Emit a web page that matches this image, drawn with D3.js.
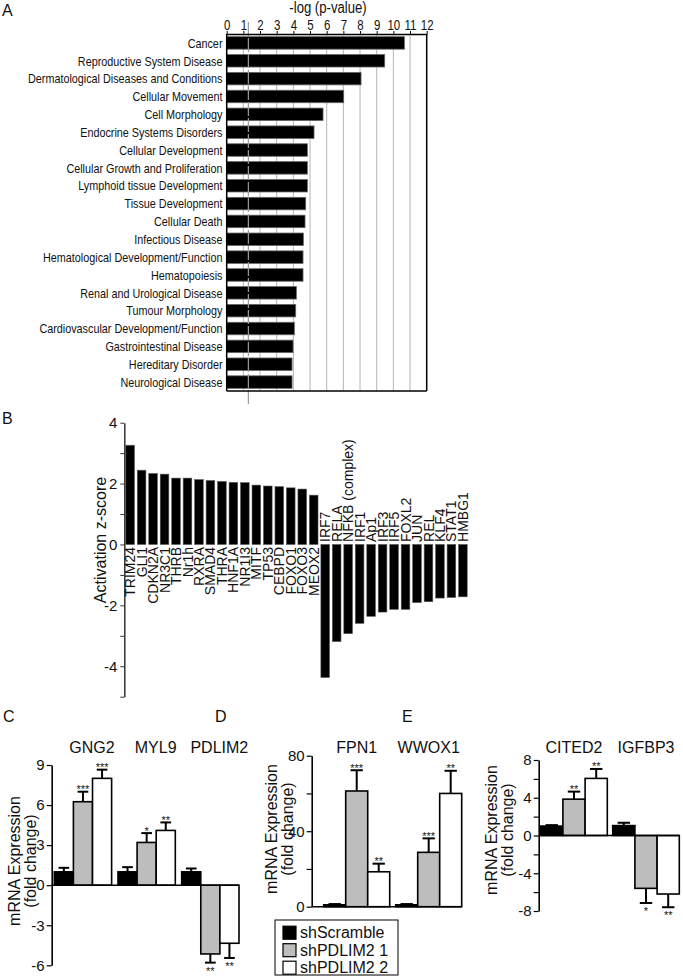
<!DOCTYPE html>
<html><head><meta charset="utf-8">
<script src="https://cdn.jsdelivr.net/npm/d3@7"></script>
<style>
body{margin:0;background:#fff;}
svg text{font-family:"Liberation Sans",Arial,sans-serif;fill:#111;}
</style></head><body>
<svg id="fig" width="683" height="980"></svg>
<script>
// ---------- Panel A data ----------
const aCategories = ["Cancer","Reproductive System Disease","Dermatological Diseases and Conditions","Cellular Movement","Cell Morphology","Endocrine Systems Disorders","Cellular Development","Cellular Growth and Proliferation","Lymphoid tissue Development","Tissue Development","Cellular Death","Infectious Disease","Hematological Development/Function","Hematopoiesis","Renal and Urological Disease","Tumour Morphology","Cardiovascular Development/Function","Gastrointestinal Disease","Hereditary Disorder","Neurological Disease"];
const aValues = [10.66, 9.48, 8.06, 7.02, 5.78, 5.24, 4.84, 4.84, 4.84, 4.74, 4.70, 4.60, 4.58, 4.58, 4.18, 4.14, 4.06, 3.98, 3.92, 3.92];
const aTicks = [0,1,2,3,4,5,6,7,8,9,10,11,12];
const aThreshold = 1.3;

// ---------- Panel B data ----------
const bFactors = ["TRIM24","GLI1","CDKN2A","NR3C1","THRB","Nr1h","RXRA","SMAD4","THRA","HNF1A","NR1I3","MITF","TP53","CEBPD","FOXO1","FOXO3","MEOX2","IRF7","RELA","NFKB (complex)","IRF1","Ap1","IRF3","IRF5","FOXL2","JUN","REL","KLF4","STAT1","HMBG1"];
const bZscores = [3.26, 2.44, 2.33, 2.31, 2.18, 2.18, 2.13, 2.10, 2.07, 2.04, 2.03, 1.95, 1.92, 1.90, 1.86, 1.82, 1.62, -4.37, -3.19, -2.93, -2.59, -2.36, -2.22, -2.13, -2.13, -1.91, -1.88, -1.76, -1.74, -1.72];
const bTicks = [-5,-4,-3,-2,-1,0,1,2,3,4];
const bTickLabels = [-4,-2,0,2,4];

// ---------- Panels C, D, E data ----------
const seriesNames = ["shScramble","shPDLIM2 1","shPDLIM2 2"];

const cGenes = ["GNG2","MYL9","PDLIM2"];
const cScramble = [1.0, 1.0, 1.0];
const cScrambleErr = [0.3, 0.35, 0.25];
const cSh1 = [6.25, 3.2, -5.15];
const cSh1Err = [0.75, 0.7, 0.65];
const cSh2 = [8.0, 4.1, -4.35];
const cSh2Err = [0.65, 0.6, 1.1];
const cSig1 = ["***","*","**"];
const cSig2 = ["***","**","**"];
const cTicks = [-6,-3,0,3,6,9];
const cTickLabels = [-6,-3,0,3,6,9];

const dGenes = ["FPN1","WWOX1"];
const dScramble = [1.0, 1.0];
const dScrambleErr = [0.4, 0.4];
const dSh1 = [61.3, 28.8];
const dSh1Err = [11.0, 7.4];
const dSh2 = [18.5, 60.0];
const dSh2Err = [4.3, 12.0];
const dSig1 = ["***","***"];
const dSig2 = ["**","**"];
const dTicks = [0,20,40,60,80];
const dTickLabels = [0,40,80];

const eGenes = ["CITED2","IGFBP3"];
const eScramble = [1.0, 1.05];
const eScrambleErr = [0.1, 0.3];
const eSh1 = [3.85, -5.6];
const eSh1Err = [0.8, 1.55];
const eSh2 = [6.05, -6.2];
const eSh2Err = [1.0, 1.4];
const eSig1 = ["**","*"];
const eSig2 = ["**","**"];
const eTicks = [-8,-6,-4,-2,0,2,4,6,8];
const eTickLabels = [-8,-4,0,4,8];

const seriesFill = ["#000000","#bdbdbd","#ffffff"];

const svg = d3.select("#fig");

// condense text horizontally (narrow-font look)
function condense(sel, factor){
  sel.each(function(){
    const w = this.getComputedTextLength();
    if (w > 0) {
      this.setAttribute("textLength", (w*factor).toFixed(2));
      this.setAttribute("lengthAdjust","spacingAndGlyphs");
    }
  });
}

// panel letters
[["A",2,16],["B",2,424],["C",3,722],["D",215,722],["E",402,722]].forEach(([t,x,y])=>{
  svg.append("text").attr("x",x).attr("y",y).attr("font-size",16).text(t);
});

// ================= Panel A =================
(function(){
  const g = svg.append("g");
  const x = d3.scaleLinear().domain([0,12]).range([226.7, 426.7]);
  const y = d3.scaleBand().domain(aCategories).range([34, 391]).paddingInner(0.3).paddingOuter(0.15);
  g.selectAll("line.grid").data(aTicks.filter(d=>d>0 && d<12)).join("line")
    .attr("class","grid").attr("x1",d=>x(d)).attr("x2",d=>x(d)).attr("y1",34).attr("y2",391)
    .attr("stroke","#b5b5b5").attr("stroke-width",1);
  g.selectAll("rect.bar").data(aValues).join("rect").attr("class","bar")
    .attr("x",x(0)).attr("y",(d,i)=>y(aCategories[i]))
    .attr("width",d=>x(d)-x(0)).attr("height",y.bandwidth())
    .attr("fill","#000").attr("stroke","#666").attr("stroke-width",0.8);
  // threshold
  g.append("line").attr("x1",x(aThreshold)).attr("x2",x(aThreshold)).attr("y1",22).attr("y2",406)
    .attr("stroke","#9a9a9a").attr("stroke-width",1.2).attr("stroke-dasharray","14,2");
  // box borders
  g.append("line").attr("x1",x(12)).attr("x2",x(12)).attr("y1",34).attr("y2",391).attr("stroke","#000").attr("stroke-width",1.5);
  g.append("line").attr("x1",x(0)).attr("x2",x(12)).attr("y1",391).attr("y2",391).attr("stroke","#000").attr("stroke-width",1.5);
  g.append("line").attr("x1",x(0)).attr("x2",x(0)).attr("y1",34).attr("y2",391).attr("stroke","#000").attr("stroke-width",1.5);
  const ax = g.append("g").attr("transform","translate(0,34)")
    .call(d3.axisTop(x).tickValues(aTicks).tickSize(3).tickSizeOuter(0).tickPadding(1).tickFormat(d=>String(d)));
  ax.select(".domain").attr("stroke","#000").attr("stroke-width",1.5);
  ax.selectAll("text").attr("font-size",14).attr("fill","#111");
  condense(ax.selectAll("text"), 0.82);
  const title = g.append("text").attr("x",328).attr("y",13).attr("text-anchor","middle").attr("font-size",16).text("-log (p-value)");
  condense(title, 0.82);
  const labs = g.selectAll("text.cat").data(aCategories).join("text").attr("class","cat")
    .attr("x",222.5).attr("y",d=>y(d)+y.bandwidth()/2).attr("dy","0.35em")
    .attr("text-anchor","end").attr("font-size",13.5).text(d=>d);
  condense(labs, 0.8);
})();

// ================= Panel B =================
(function(){
  const g = svg.append("g");
  const x = d3.scaleBand().domain(bFactors).range([125.8, 467.2]).paddingInner(0.25).paddingOuter(0);
  const y = d3.scaleLinear().domain([-5,4]).range([696.7, 422.7]);
  g.selectAll("rect").data(bZscores).join("rect")
    .attr("x",(d,i)=>x(bFactors[i])).attr("width",x.bandwidth())
    .attr("y",d=>y(Math.max(0,d))).attr("height",d=>Math.abs(y(d)-y(0)))
    .attr("fill","#000").attr("stroke","#555").attr("stroke-width",0.6);
  const ax = g.append("g").attr("transform","translate(124.3,0)")
    .call(d3.axisLeft(y).tickValues(bTicks).tickSize(4).tickSizeOuter(0).tickPadding(3)
      .tickFormat(d=>bTickLabels.includes(d)?String(d):""));
  ax.select(".domain").attr("stroke","#333").attr("stroke-width",1.5);
  ax.selectAll(".tick line").attr("stroke","#333");
  ax.selectAll("text").attr("font-size",15).attr("fill","#111");
  g.selectAll("text.lab").data(bZscores).join("text").attr("class","lab")
    .attr("transform",(d,i)=>`translate(${x(bFactors[i])+x.bandwidth()/2},${d>=0?y(0)+2.5:y(0)-2.5}) rotate(-90)`)
    .attr("dy","0.36em").attr("text-anchor",d=>d>=0?"end":"start")
    .attr("font-size",14).text((d,i)=>bFactors[i]);
  g.append("text").attr("transform","translate(106,540) rotate(-90)").attr("text-anchor","middle")
    .attr("font-size",16).text("Activation z-score");
})();

// ================= Panels C, D, E =================
function groupPanel(cfg){
  const g = svg.append("g");
  const y = d3.scaleLinear().domain(cfg.domain).range(cfg.yRange);
  const x0 = d3.scaleBand().domain(cfg.genes).range(cfg.xRange).paddingInner(cfg.padInner).paddingOuter(0);
  const x1 = d3.scaleBand().domain(seriesNames).range([0, x0.bandwidth()]).padding(0);
  const rows = [];
  cfg.genes.forEach((gene,i)=>{
    cfg.series.forEach((s,j)=>{
      rows.push({gene, series:seriesNames[j], v:s.vals[i], e:s.errs[i], sig:s.sig?s.sig[i]:"", j});
    });
  });
  rows.forEach(r=>{
    const cx = x0(r.gene)+x1(r.series)+x1.bandwidth()/2;
    const end = r.v>=0 ? r.v+r.e : r.v-r.e;
    const cw = x1.bandwidth()*0.28;
    g.append("line").attr("x1",cx).attr("x2",cx).attr("y1",y(r.v)).attr("y2",y(end)).attr("stroke","#000").attr("stroke-width",2);
    g.append("line").attr("x1",cx-cw).attr("x2",cx+cw).attr("y1",y(end)).attr("y2",y(end)).attr("stroke","#000").attr("stroke-width",2);
    if(r.sig){
      g.append("text").attr("x",cx).attr("y", r.v>=0 ? y(end)+1.5 : y(end)+12)
        .attr("text-anchor","middle").attr("font-size",11).text(r.sig);
    }
  });
  g.selectAll("rect").data(rows).join("rect")
    .attr("x",r=>x0(r.gene)+x1(r.series)).attr("width",x1.bandwidth())
    .attr("y",r=>y(Math.max(0,r.v))).attr("height",r=>Math.abs(y(r.v)-y(0)))
    .attr("fill",r=>seriesFill[r.j]).attr("stroke","#000").attr("stroke-width",1.6);
  g.append("line").attr("x1",cfg.axisX).attr("x2",cfg.xRange[1]).attr("y1",y(0)).attr("y2",y(0)).attr("stroke","#000").attr("stroke-width",1.6);
  const ax = g.append("g").attr("transform",`translate(${cfg.axisX},0)`)
    .call(d3.axisLeft(y).tickValues(cfg.ticks).tickSize(5).tickSizeOuter(0).tickPadding(2)
      .tickFormat(d=>cfg.tickLabels.includes(d)?String(d):""));
  ax.select(".domain").attr("stroke","#000").attr("stroke-width",1.6);
  ax.selectAll(".tick line").attr("stroke","#000").attr("stroke-width",1.2);
  ax.selectAll("text").attr("font-size",15).attr("fill","#111");
  g.selectAll("text.gene").data(cfg.genes).join("text").attr("class","gene")
    .attr("x",d=>x0(d)+x0.bandwidth()/2+cfg.labelOffset).attr("y",753)
    .attr("text-anchor","middle").attr("font-size",16).text(d=>d);
  const t = g.append("text").attr("transform",`translate(${cfg.titleX},${cfg.titleY}) rotate(-90)`)
    .attr("text-anchor","middle").attr("font-size",16);
  t.append("tspan").attr("x",0).attr("y",0).text("mRNA Expression");
  t.append("tspan").attr("x",0).attr("y",16).text("(fold change)");
}

groupPanel({genes:cGenes, domain:[-6,9], yRange:[965.3,765], xRange:[54.3,239], padInner:0.1, axisX:51.7,
  ticks:cTicks, tickLabels:cTickLabels, labelOffset:9, titleX:20, titleY:861,
  series:[{vals:cScramble,errs:cScrambleErr},{vals:cSh1,errs:cSh1Err,sig:cSig1},{vals:cSh2,errs:cSh2Err,sig:cSig2}]});
groupPanel({genes:dGenes, domain:[0,80], yRange:[906.7,755.7], xRange:[323.7,461.7], padInner:0.083, axisX:311.7,
  ticks:dTicks, tickLabels:dTickLabels, labelOffset:0, titleX:276.5, titleY:829,
  series:[{vals:dScramble,errs:dScrambleErr},{vals:dSh1,errs:dSh1Err,sig:dSig1},{vals:dSh2,errs:dSh2Err,sig:dSig2}]});
groupPanel({genes:eGenes, domain:[-8,8], yRange:[911,760], xRange:[540.7,679.3], padInner:0.075, axisX:538.7,
  ticks:eTicks, tickLabels:eTickLabels, labelOffset:0, titleX:496.5, titleY:830,
  series:[{vals:eScramble,errs:eScrambleErr},{vals:eSh1,errs:eSh1Err,sig:eSig1},{vals:eSh2,errs:eSh2Err,sig:eSig2}]});

// legend
(function(){
  const g = svg.append("g");
  g.append("rect").attr("x",275).attr("y",920).attr("width",123).attr("height",55).attr("fill","#fff").attr("stroke","#000").attr("stroke-width",1);
  const ly = d3.scalePoint().domain(seriesNames).range([932.7,967.7]);
  seriesNames.forEach((s,j)=>{
    g.append("rect").attr("x",283).attr("y",ly(s)-6.5).attr("width",13).attr("height",13)
      .attr("fill",seriesFill[j]).attr("stroke","#000").attr("stroke-width",1.2);
    g.append("text").attr("x",300).attr("y",ly(s)).attr("dy","0.35em").attr("font-size",16).text(s);
  });
})();
</script>
</body></html>
